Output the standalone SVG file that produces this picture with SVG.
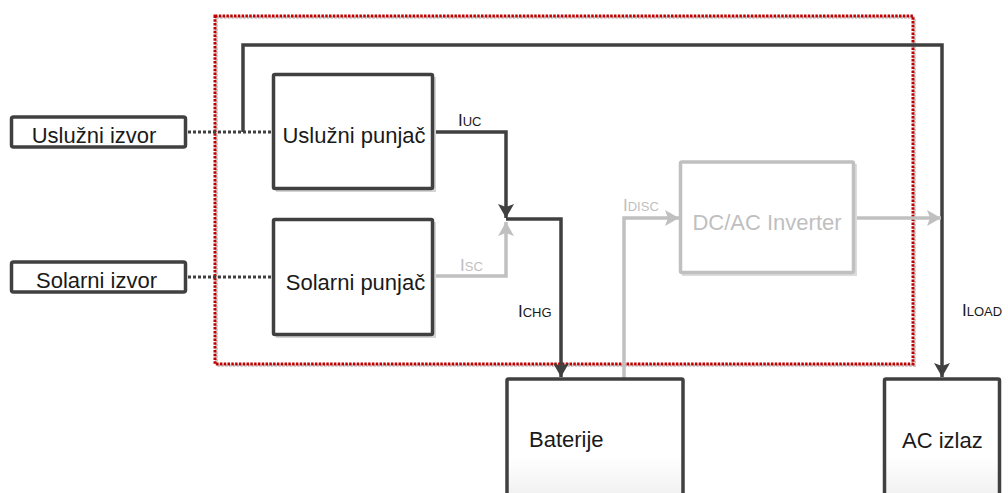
<svg xmlns="http://www.w3.org/2000/svg" width="1008" height="493" viewBox="0 0 1008 493">
<style>
text{font-family:"Liberation Sans",Arial,sans-serif}
.lbl{font-size:22px;fill:#1a1a1a}
.glbl{font-size:22px;fill:#bfbfbf}
.box{fill:#ffffff;stroke:#404040;stroke-width:3.5}
.gbox{fill:#ffffff;stroke:#c0c0c0;stroke-width:3.5}
.shadow{fill:#d4d4d4}
.dk{fill:none;stroke:#404040;stroke-width:3.5}
.gr{fill:none;stroke:#c0c0c0;stroke-width:3.5}
.dot{fill:none;stroke:#404040;stroke-width:3;stroke-dasharray:3 2}
.cur{font-size:17px;fill:#1a1a1a}
.gcur{font-size:17px;fill:#bfbfbf}
.sub{font-size:13px}
</style>
<defs>
<marker id="ad" markerUnits="userSpaceOnUse" markerWidth="16" markerHeight="18" viewBox="0 -9 15 18" refX="14" refY="0" orient="auto">
<path d="M0,-8 L14,0 L0,8 L3,0 Z" fill="#404040"/>
</marker>
<marker id="ag" markerUnits="userSpaceOnUse" markerWidth="16" markerHeight="18" viewBox="0 -9 15 18" refX="14" refY="0" orient="auto">
<path d="M0,-8 L14,0 L0,8 L3,0 Z" fill="#c0c0c0"/>
</marker>
<linearGradient id="bg" x1="0" y1="0" x2="0" y2="1">
<stop offset="0" stop-color="#ffffff"/>
<stop offset="0.6" stop-color="#ffffff"/>
<stop offset="1" stop-color="#ececec"/>
</linearGradient>
</defs>

<!-- system boundary -->
<g id="boundary">
<rect x="216.5" y="17.5" width="698" height="348" fill="none" stroke="#cccccc" stroke-width="3" stroke-dasharray="2.5 1.3"/>
<rect x="215" y="16" width="698" height="348" fill="none" stroke="#c00000" stroke-width="3" stroke-dasharray="2.5 1.3"/>
</g>

<g id="connectors">
<!-- dotted source links -->
<line class="dot" x1="188" y1="132" x2="271" y2="132"/>
<line class="dot" x1="188" y1="277" x2="271" y2="277"/>
<!-- load loop -->
<polyline class="dk" points="243,132 243,45 942,45 942,377" marker-end="url(#ad)"/>
<!-- IUC -->
<polyline class="dk" points="434,132 506,132 506,218" marker-end="url(#ad)"/>
<!-- ISC -->
<polyline class="gr" points="434,276 506,276 506,222" marker-end="url(#ag)"/>
<!-- ICHG -->
<polyline class="dk" points="506,219 561,219 561,377" marker-end="url(#ad)"/>
<!-- IDISC -->
<polyline class="gr" points="624,378 624,218 679,218" marker-end="url(#ag)"/>
<!-- inverter output -->
<line class="gr" x1="855" y1="218" x2="941" y2="218" marker-end="url(#ag)"/>
<!-- current labels -->
<text class="cur" x="458" y="126">I<tspan class="sub">UC</tspan></text>
<text class="gcur" x="460" y="271">I<tspan class="sub">SC</tspan></text>
<text class="cur" x="518" y="317">I<tspan class="sub">CHG</tspan></text>
<text class="gcur" x="623" y="211">I<tspan class="sub">DISC</tspan></text>
<text class="cur" x="962" y="316">I<tspan class="sub">LOAD</tspan></text>
</g>

<g id="uslužni-izvor">
<rect class="box" x="11.5" y="117" width="174" height="30" rx="2"/>
<text class="lbl" x="94" y="143" text-anchor="middle">Uslužni izvor</text>
</g>

<g id="solarni-izvor">
<rect class="box" x="11.5" y="262" width="174" height="30" rx="2"/>
<text class="lbl" x="96.5" y="288" text-anchor="middle">Solarni izvor</text>
</g>

<g id="uslužni-punjač">
<rect class="shadow" x="276" y="77" width="160" height="115"/>
<rect class="box" x="273.5" y="74.5" width="159" height="114" rx="1.5"/>
<text class="lbl" x="354" y="143" text-anchor="middle">Uslužni punjač</text>
</g>

<g id="solarni-punjač">
<rect class="shadow" x="276" y="222" width="160" height="116"/>
<rect class="box" x="273.5" y="219.5" width="159" height="115" rx="1.5"/>
<text class="lbl" x="355.5" y="290" text-anchor="middle">Solarni punjač</text>
</g>

<g id="dc-ac-inverter">
<rect fill="#dcdcdc" x="682" y="164" width="175" height="112"/>
<rect class="gbox" x="680.5" y="162" width="173" height="110.5" rx="1.5"/>
<text class="glbl" x="767" y="230" text-anchor="middle">DC/AC Inverter</text>
</g>

<g id="baterije">
<rect x="507" y="379" width="176" height="130" fill="url(#bg)" stroke="#404040" stroke-width="3.5" rx="1.5"/>
<text class="lbl" x="529" y="447">Baterije</text>
</g>

<g id="ac-izlaz">
<rect x="884.5" y="379" width="115" height="130" fill="url(#bg)" stroke="#404040" stroke-width="3.5" rx="1.5"/>
<text class="lbl" x="902" y="448">AC izlaz</text>
</g>
</svg>
